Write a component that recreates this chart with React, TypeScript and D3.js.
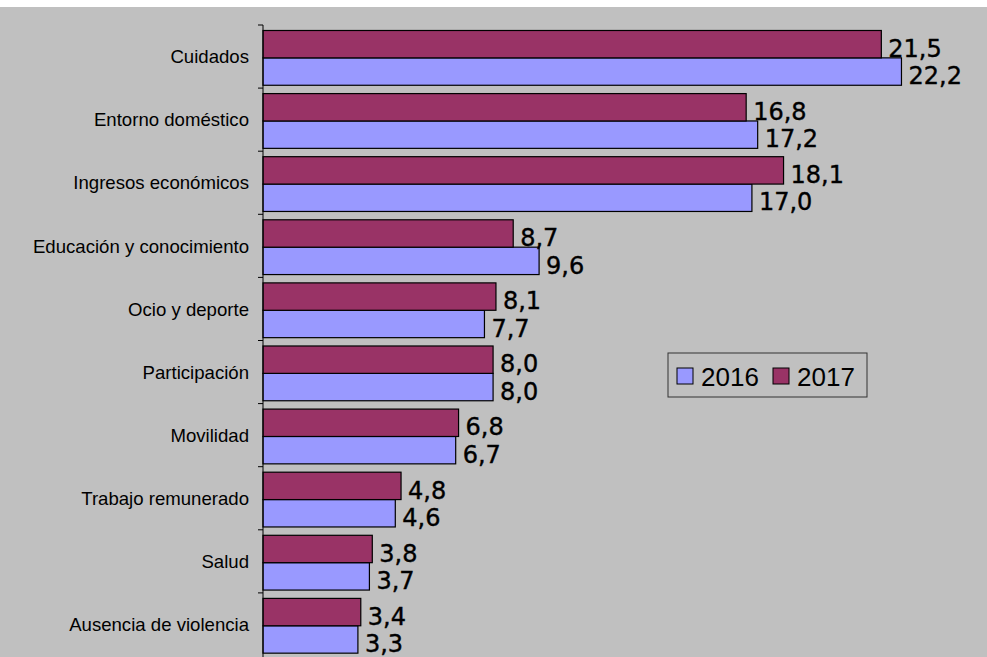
import React, { useEffect, useRef } from 'react';
import * as d3 from 'd3';

const categories = [
  'Cuidados',
  'Entorno doméstico',
  'Ingresos económicos',
  'Educación y conocimiento',
  'Ocio y deporte',
  'Participación',
  'Movilidad',
  'Trabajo remunerado',
  'Salud',
  'Ausencia de violencia',
];
const values2016 = [22.2, 17.2, 17.0, 9.6, 7.7, 8.0, 6.7, 4.6, 3.7, 3.3];
const values2017 = [21.5, 16.8, 18.1, 8.7, 8.1, 8.0, 6.8, 4.8, 3.8, 3.4];
const seriesNames = ['2016', '2017'];
const seriesColors = ['#9999FF', '#993366'];

const App: React.FC = () => {
  const svgRef = useRef<SVGSVGElement | null>(null);

  useEffect(() => {
    drawChart();
  }, []);

  const drawChart = () => {
    const width = 987;
    const height = 657;
    const svg = d3.select(svgRef.current);
    svg.selectAll('*').remove();

    svg.append('rect').attr('width', width).attr('height', height).attr('fill', '#ffffff');
    svg.append('rect').attr('y', 7).attr('width', width).attr('height', height - 7).attr('fill', '#C0C0C0');

    const xScale = d3.scaleLinear().domain([0, 25]).range([263, 982]);
    const yScale = d3.scaleBand().domain(categories).range([25, 656]);
    const bw = yScale.bandwidth();
    // 2017 sits above 2016 inside each category
    const ySeries = d3.scaleBand().domain(['2017', '2016']).range([bw * 0.087, bw * 0.955]);

    const data = categories.map((c, i) => ({ cat: c, v2016: values2016[i], v2017: values2017[i] }));
    const fmt = (v: number) => v.toFixed(1).replace('.', ',');

    const groups = svg
      .selectAll('.cat')
      .data(data)
      .enter()
      .append('g')
      .attr('class', 'cat')
      .attr('transform', (d) => `translate(0,${yScale(d.cat)})`);

    seriesNames.forEach((s, si) => {
      const val = (d: any) => (s === '2016' ? d.v2016 : d.v2017);
      groups
        .append('rect')
        .attr('x', xScale(0))
        .attr('y', ySeries(s)!)
        .attr('width', (d) => xScale(val(d)) - xScale(0))
        .attr('height', ySeries.bandwidth())
        .attr('fill', seriesColors[si])
        .attr('stroke', '#000')
        .attr('stroke-width', 1.2);

      groups
        .append('text')
        .attr('x', (d) => xScale(val(d)) + 7)
        .attr('y', ySeries(s)! + ySeries.bandwidth() - 1)
        .style('font-family', 'DejaVu Sans, Verdana, sans-serif')
        .style('font-size', '24px')
        .attr('fill', '#000')
        .attr('stroke', '#000')
        .attr('stroke-width', 0.4)
        .text((d) => fmt(val(d)));
    });

    // axis line and ticks at category boundaries
    const axis = svg.append('g');
    axis
      .append('line')
      .attr('x1', xScale(0))
      .attr('x2', xScale(0))
      .attr('y1', 25)
      .attr('y2', 657)
      .attr('stroke', '#000')
      .attr('stroke-width', 1);
    const boundaries = categories.map((c) => yScale(c)!);
    axis
      .selectAll('.tick')
      .data(boundaries)
      .enter()
      .append('line')
      .attr('x1', xScale(0) - 5)
      .attr('x2', xScale(0))
      .attr('y1', (d) => d)
      .attr('y2', (d) => d)
      .attr('stroke', '#000');

    svg
      .selectAll('.cat-label')
      .data(categories)
      .enter()
      .append('text')
      .attr('class', 'cat-label')
      .attr('x', 249)
      .attr('y', (d) => yScale(d)! + bw / 2)
      .attr('dy', '0.36em')
      .attr('text-anchor', 'end')
      .style('font-family', 'Liberation Sans, Arial, sans-serif')
      .style('font-size', '18.6px')
      .attr('fill', '#000')
      .text((d) => d);

    // legend
    const legend = svg.append('g').attr('transform', 'translate(668,353)');
    legend
      .append('rect')
      .attr('width', 199)
      .attr('height', 44)
      .attr('fill', '#C0C0C0')
      .attr('stroke', '#333')
      .attr('stroke-width', 1);
    const legendX = [9, 105];
    seriesNames.forEach((s, i) => {
      legend
        .append('rect')
        .attr('x', legendX[i])
        .attr('y', 15)
        .attr('width', 16)
        .attr('height', 16)
        .attr('fill', seriesColors[i])
        .attr('stroke', '#000');
      legend
        .append('text')
        .attr('x', legendX[i] + 24)
        .attr('y', 33)
        .style('font-family', 'Liberation Sans, Arial, sans-serif')
        .style('font-size', '26px')
        .attr('fill', '#000')
        .text(s);
    });
  };

  return (
    <svg
      ref={svgRef}
      width={987}
      height={657}
      style={{ position: 'absolute', left: 0, top: 0, display: 'block' }}
    />
  );
};

export default App;
